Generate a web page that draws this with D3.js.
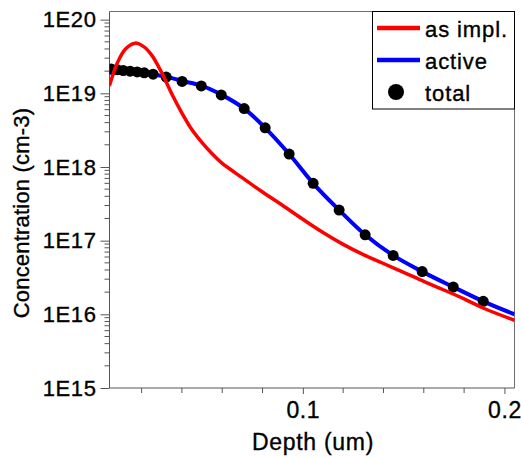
<!DOCTYPE html>
<html>
<head>
<meta charset="utf-8">
<script src="https://cdn.jsdelivr.net/npm/d3@7"></script>
<style>
  html, body { margin: 0; padding: 0; background: #fff; }
  svg { display: block; font-family: "Liberation Sans", Arial, Helvetica, sans-serif; }
  svg text { stroke: #000; stroke-width: 0.35px; fill: #000; }
</style>
</head>
<body>
<svg id="chart" width="521" height="457"></svg>
<script>
// ---- data (depth in um, concentration in cm^-3) ----
const implDepth = [0.004, 0.008, 0.012, 0.0168, 0.021, 0.025, 0.030, 0.035, 0.040, 0.045, 0.050, 0.055, 0.060, 0.065, 0.070, 0.080, 0.090, 0.100, 0.110, 0.120, 0.130, 0.140, 0.150, 0.160, 0.170, 0.180, 0.190, 0.205];
const implConc  = [1.26e19, 2.6e19, 4.0e19, 4.8e19, 4.3e19, 3.3e19, 1.9e19, 9.8e18, 5.4e18, 3.2e18, 2.14e18, 1.51e18, 1.12e18, 8.9e17, 7.1e17, 4.57e17, 3.0e17, 1.95e17, 1.29e17, 8.9e16, 6.46e16, 4.9e16, 3.72e16, 2.8e16, 2.14e16, 1.62e16, 1.2e16, 8.3e15];

const activeDepth = [0.004, 0.015, 0.025, 0.0322, 0.0401, 0.0496, 0.0595, 0.0709, 0.0813, 0.0932, 0.1051, 0.118, 0.1309, 0.1448, 0.1592, 0.1746, 0.1895, 0.205];
const activeConc  = [1.9e19, 1.88e19, 1.8e19, 1.68e19, 1.47e19, 1.27e19, 9.6e18, 6.2e18, 3.4e18, 1.5e18, 6.0e17, 2.6e17, 1.2e17, 6.3e16, 3.8e16, 2.35e16, 1.5e16, 1.0e16];

const totalDepth = [0.0049, 0.0079, 0.0109, 0.0143, 0.0178, 0.0213, 0.0257, 0.0322, 0.0401, 0.0496, 0.0595, 0.0709, 0.0813, 0.0932, 0.1051, 0.118, 0.1309, 0.1448, 0.1592, 0.1746, 0.1895];
const totalConc  = [2.14e19, 2.09e19, 2.04e19, 2.0e19, 1.95e19, 1.9e19, 1.82e19, 1.66e19, 1.45e19, 1.26e19, 9.5e18, 6.2e18, 3.4e18, 1.5e18, 6.0e17, 2.6e17, 1.2e17, 6.3e16, 3.8e16, 2.35e16, 1.5e16];

const xMajorTicks = [0.1, 0.2];
const xMinorTicks = [0.02, 0.04, 0.06, 0.08, 0.12, 0.14, 0.16, 0.18];
const yMajorTicks = [1e15, 1e16, 1e17, 1e18, 1e19, 1e20];
const yTickLabels = ["1E15", "1E16", "1E17", "1E18", "1E19", "1E20"];
const legendLabels = ["as impl.", "active", "total"];
const xTitle = "Depth (um)";
const yTitle = "Concentration (cm-3)";

// ---- layout ----
const L = 109.5, R = 514.5, T = 11.5, B = 388;
const svg = d3.select("#chart");

const x = d3.scaleLinear().domain([0.00407, 0.205]).range([L, R]);
const y = d3.scaleLog().domain([1e15, 1.29e20]).range([B, T]);

// clip
svg.append("defs").append("clipPath").attr("id", "clip")
  .append("rect").attr("x", L).attr("y", T).attr("width", R - L).attr("height", B - T);

// frame (top/right)
svg.append("path")
  .attr("d", `M${L},${T}H${R}V${B}`)
  .attr("fill", "none").attr("stroke", "#6e6e6e").attr("stroke-width", 1);

// y axis
const yMinor = [];
for (let e = 15; e < 21; e++) for (let k = 2; k <= 9; k++) { const v = k * Math.pow(10, e); if (v <= 1.29e20) yMinor.push(v); }
const yAxis = d3.axisLeft(y).tickValues(yMajorTicks).tickSize(9).tickPadding(4)
  .tickFormat((d, i) => yTickLabels[i]);
const gy = svg.append("g").attr("transform", `translate(${L},0)`).call(yAxis);
gy.append("g").selectAll("line").data(yMinor).join("line")
  .attr("x1", -5).attr("x2", 0).attr("y1", d => y(d)).attr("y2", d => y(d))
  .attr("stroke", "#555");
gy.select(".domain").attr("d", `M0,${T}V${B}`).attr("stroke", "#555");
gy.selectAll(".tick line").attr("stroke", "#555");
gy.selectAll(".tick text").attr("font-size", 22).attr("letter-spacing", "0.6px")
  .attr("font-family", "Liberation Sans, Arial, sans-serif");

// x axis
const xAxis = d3.axisBottom(x).tickValues(xMajorTicks).tickSize(6).tickPadding(8)
  .tickFormat(d3.format(".1f"));
const gx = svg.append("g").attr("transform", `translate(0,${B})`).call(xAxis);
gx.append("g").selectAll("line").data(xMinorTicks).join("line")
  .attr("x1", d => x(d)).attr("x2", d => x(d)).attr("y1", 0).attr("y2", 5)
  .attr("stroke", "#555");
gx.select(".domain").attr("d", `M${L},0H${R}`).attr("stroke", "#555");
gx.selectAll(".tick line").attr("stroke", "#555");
gx.selectAll(".tick text").attr("font-size", 23).attr("letter-spacing", "0.6px")
  .attr("font-family", "Liberation Sans, Arial, sans-serif");

// titles
svg.append("text").attr("x", (L + R) / 2 + 1).attr("y", 450)
  .attr("text-anchor", "middle").attr("font-size", 23).attr("letter-spacing", "0.7px").text(xTitle);
svg.append("text").attr("transform", "translate(29,213) rotate(-90)")
  .attr("text-anchor", "middle").attr("font-size", 22).attr("letter-spacing", "0.2px").text(yTitle);

// data
const plot = svg.append("g").attr("clip-path", "url(#clip)");
const line = d3.line().x(d => x(d[0])).y(d => y(d[1])).curve(d3.curveCatmullRom.alpha(0.5));

plot.append("path").datum(d3.zip(activeDepth, activeConc))
  .attr("d", line).attr("fill", "none").attr("stroke", "#0000ff").attr("stroke-width", 4);

plot.append("g").selectAll("circle").data(d3.zip(totalDepth, totalConc)).join("circle")
  .attr("cx", d => x(d[0])).attr("cy", d => y(d[1])).attr("r", 5.5).attr("fill", "#000");

plot.append("path").datum(d3.zip(implDepth, implConc))
  .attr("d", line).attr("fill", "none").attr("stroke", "#ff0000").attr("stroke-width", 3.5);

// legend
const lg = svg.append("g");
lg.append("rect").attr("x", 372.5).attr("y", T).attr("width", R - 372.5).attr("height", 109 - T)
  .attr("fill", "#fff").attr("stroke", "#000").attr("stroke-width", 1);
const legColors = ["#ff0000", "#0000ff"];
const legY = [28, 60, 92];
legColors.forEach((c, i) => {
  lg.append("line").attr("x1", 377).attr("x2", 420).attr("y1", legY[i]).attr("y2", legY[i])
    .attr("stroke", c).attr("stroke-width", 4.5);
});
lg.append("circle").attr("cx", 396).attr("cy", legY[2]).attr("r", 8).attr("fill", "#000");
legendLabels.forEach((t, i) => {
  lg.append("text").attr("x", 425).attr("y", legY[i] + 9).attr("font-size", 22)
    .attr("letter-spacing", "0.9px").text(t);
});
</script>
</body>
</html>
